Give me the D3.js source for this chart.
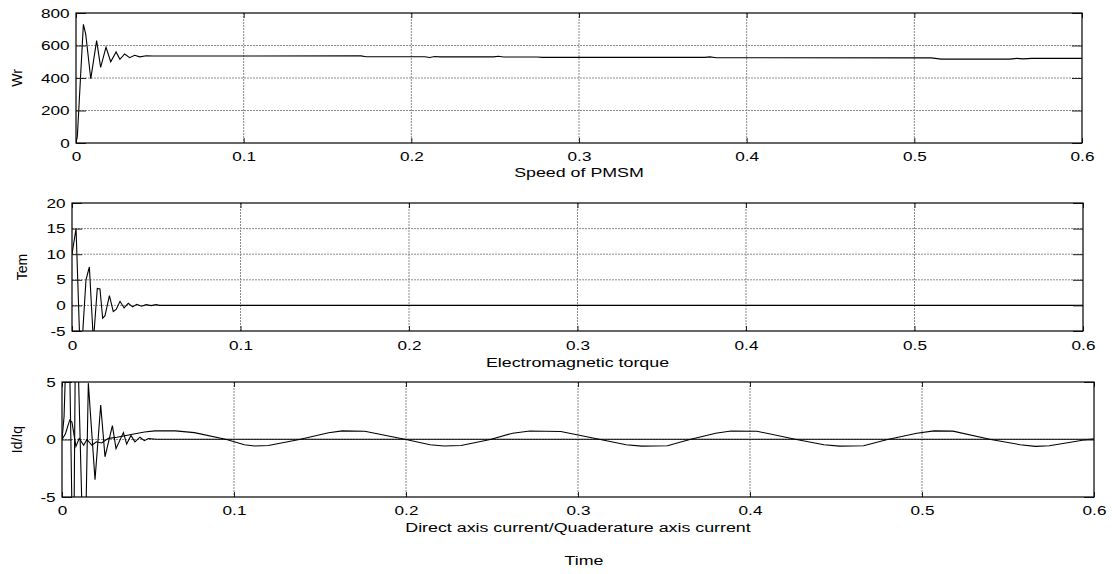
<!DOCTYPE html>
<html>
<head>
<meta charset="utf-8">
<script src="https://cdn.jsdelivr.net/npm/d3@7"></script>
<style>
  body { margin: 0; background: #fff; }
  text { font-family: "Liberation Sans", Arial, sans-serif; }
</style>
</head>
<body>
<div id="chart"></div>
<script>
// Time ticks shared by the three subplots
const timeTicks = [0, 0.1, 0.2, 0.3, 0.4, 0.5, 0.6];

// Speed of PMSM (Wr)
const speedTime  = [0, 0.0008, 0.0044, 0.0058, 0.0088, 0.0123, 0.0147, 0.0179, 0.0207, 0.0239, 0.0262, 0.029, 0.032, 0.035, 0.038, 0.042, 0.046,
                    0.17, 0.173, 0.208, 0.211, 0.214, 0.217, 0.249, 0.252, 0.255, 0.275, 0.278, 0.375, 0.378, 0.382,
                    0.51, 0.516, 0.557, 0.561, 0.565, 0.57, 0.6];
const speedValue = [0, 40, 730, 670, 395, 630, 465, 590, 500, 560, 515, 548, 525, 540, 530, 537, 535,
                    536, 531, 531, 526, 532, 530, 530, 534, 529, 529, 527, 527, 530, 525,
                    524, 516, 516, 521, 518, 521, 521];

// Electromagnetic torque (Tem)
const temTime  = [0, 0.0024, 0.0051, 0.0083, 0.0103, 0.0127, 0.015, 0.0166, 0.0182, 0.0196, 0.0222, 0.0245, 0.0262, 0.0285, 0.0309,
                  0.0334, 0.036, 0.0384, 0.0413, 0.044, 0.047, 0.0498, 0.052, 0.6];
const temValue = [10, 15, -12, 5, 7.5, -7, 3.3, 3.2, -2.5, -2, 1.9, -1.2, -0.8, 0.8, -0.5,
                  0.4, -0.3, 0.2, -0.15, 0.15, -0.05, 0.15, 0, 0];

// Direct / quadrature axis currents (Id/Iq)
const idTime  = [0, 0.002, 0.0045, 0.0058, 0.0081, 0.01, 0.0126, 0.0145, 0.0174, 0.02, 0.023, 0.027, 0.032, 0.041, 0.048, 0.054, 0.066, 0.077,
                 0.0957, 0.106, 0.112, 0.12, 0.138, 0.155, 0.163, 0.176, 0.2, 0.214, 0.222, 0.232, 0.249, 0.262, 0.272, 0.29,
                 0.313, 0.328, 0.337, 0.352, 0.365, 0.38, 0.389, 0.404, 0.427, 0.443, 0.452, 0.466, 0.48, 0.497, 0.507, 0.518,
                 0.54, 0.557, 0.566, 0.574, 0.596, 0.6];
const idValue = [0, 0.5, 1.7, 1.5, -0.6, 0.1, -0.5, 0, -0.5, -0.2, -0.3, 0.1, 0.2, 0.45, 0.65, 0.75, 0.75, 0.6,
                 0, -0.45, -0.56, -0.52, 0, 0.58, 0.75, 0.72, 0, -0.45, -0.56, -0.52, 0, 0.55, 0.74, 0.7,
                 0, -0.45, -0.58, -0.55, 0, 0.55, 0.74, 0.72, 0, -0.45, -0.58, -0.55, 0, 0.55, 0.75, 0.73,
                 0, -0.45, -0.6, -0.55, 0, 0.05];
const iqTime  = [0, 0.0012, 0.0037, 0.0066, 0.0081, 0.013, 0.0153, 0.0192, 0.0225, 0.025, 0.0293, 0.0314, 0.0357, 0.0376, 0.0401,
                 0.0424, 0.0453, 0.0479, 0.0502, 0.055, 0.6];
const iqValue = [0, 2, 14, -14, 14, -14, 4.9, -3.5, 3.0, -1.5, 1.2, -0.8, 0.6, -0.4, 0.35,
                 -0.2, 0.2, -0.1, 0.08, 0.02, 0.02];

// Subplot layout
const panels = [
  { left: 76, right: 1082, top: 13, bottom: 143, yDomain: [0, 800], yTicks: [0, 200, 400, 600, 800], gridY: [200, 400, 600],
    ylabel: 'Wr', ylabelX: 17, xlabel: 'Speed of PMSM', xlabelY: 177, xPad: 8.5,
    series: [[speedTime, speedValue]] },
  { left: 72, right: 1083, top: 203, bottom: 331, yDomain: [-5, 20], yTicks: [-5, 0, 5, 10, 15, 20], gridY: [0, 5, 10, 15],
    ylabel: 'Tem', ylabelX: 22, xlabel: 'Electromagnetic torque', xlabelY: 367, xPad: 9.5,
    series: [[temTime, temValue]] },
  { left: 62, right: 1094, top: 382, bottom: 497, yDomain: [-5, 5], yTicks: [-5, 0, 5], gridY: [0],
    ylabel: 'Id/Iq', ylabelX: 17, xlabel: 'Direct axis current/Quaderature axis current', xlabelY: 532, xPad: 8.5,
    series: [[idTime, idValue], [iqTime, iqValue]] }
];

const stretch = 1.32;   // the original text is wide

const svg = d3.select('#chart')
  .append('svg')
  .attr('width', 1112)
  .attr('height', 574);

const gridColor = '#8a8a8a';

panels.forEach((p, i) => {
  const x = d3.scaleLinear().domain([0, 0.6]).range([p.left, p.right]);
  const y = d3.scaleLinear().domain(p.yDomain).range([p.bottom, p.top]);
  const g = svg.append('g');

  svg.append('clipPath').attr('id', 'clip' + i)
    .append('rect')
    .attr('x', p.left).attr('y', p.top)
    .attr('width', p.right - p.left).attr('height', p.bottom - p.top);

  // grid lines
  g.append('g').selectAll('line')
    .data(timeTicks.slice(1, -1))
    .join('line')
    .attr('x1', d => x(d)).attr('x2', d => x(d))
    .attr('y1', p.top).attr('y2', p.bottom)
    .attr('stroke', gridColor).attr('stroke-width', 1)
    .attr('stroke-dasharray', '2,1');
  g.append('g').selectAll('line')
    .data(p.gridY)
    .join('line')
    .attr('x1', p.left).attr('x2', p.right)
    .attr('y1', d => y(d)).attr('y2', d => y(d))
    .attr('stroke', gridColor).attr('stroke-width', 1)
    .attr('stroke-dasharray', '2,1');

  // signals
  const line = d3.line().x(d => x(d[0])).y(d => y(d[1]));
  p.series.forEach(s => {
    g.append('path')
      .datum(d3.zip(s[0], s[1]))
      .attr('d', line)
      .attr('clip-path', `url(#clip${i})`)
      .attr('fill', 'none')
      .attr('stroke', '#000')
      .attr('stroke-width', 1.1);
  });

  // inward tick marks on the four sides
  const tickAxes = [
    [d3.axisBottom(x).tickValues(timeTicks).tickSizeInner(-5), `translate(0,${p.bottom})`],
    [d3.axisTop(x).tickValues(timeTicks).tickSizeInner(-5), `translate(0,${p.top})`],
    [d3.axisLeft(y).tickValues(p.yTicks).tickSizeInner(-10), `translate(${p.left},0)`],
    [d3.axisRight(y).tickValues(p.yTicks).tickSizeInner(-10), `translate(${p.right},0)`]
  ];
  tickAxes.forEach(([ax, tr]) => {
    g.append('g').attr('transform', tr)
      .call(ax.tickSizeOuter(0).tickFormat(''))
      .call(a => a.select('.domain').remove())
      .selectAll('line').attr('stroke', '#222');
  });

  // frame
  g.append('rect')
    .attr('x', p.left).attr('y', p.top)
    .attr('width', p.right - p.left).attr('height', p.bottom - p.top)
    .attr('fill', 'none').attr('stroke', '#000').attr('stroke-width', 1.2);

  // tick labels
  g.append('g')
    .attr('transform', `translate(0,${p.bottom})`)
    .call(d3.axisBottom(x).tickValues(timeTicks).tickSize(0).tickPadding(p.xPad).tickFormat(d => String(d)))
    .call(a => a.select('.domain').remove())
    .attr('font-family', '"Liberation Sans", Arial, sans-serif')
    .attr('font-size', 13)
    .selectAll('text').attr('fill', '#000').attr('transform', `scale(${stretch},1)`);

  g.append('g')
    .attr('transform', `translate(${p.left},0)`)
    .call(d3.axisLeft(y).tickValues(p.yTicks).tickSize(0).tickPadding(4.8).tickFormat(d => String(d)))
    .call(a => a.select('.domain').remove())
    .attr('font-family', '"Liberation Sans", Arial, sans-serif')
    .attr('font-size', 13)
    .selectAll('text').attr('fill', '#000').attr('transform', `scale(${stretch},1)`);

  // axis titles
  g.append('text')
    .attr('transform', `translate(${(p.left + p.right) / 2},${p.xlabelY}) scale(${stretch},1)`)
    .attr('text-anchor', 'middle')
    .style('font-size', '13.5px')
    .text(p.xlabel);

  g.append('text')
    .attr('transform', `translate(${p.ylabelX},${(p.top + p.bottom) / 2}) rotate(-90)`)
    .attr('text-anchor', 'middle')
    .attr('dy', '0.35em')
    .style('font-size', '14px')
    .text(p.ylabel);
});

// common x label
svg.append('text')
  .attr('transform', `translate(584,565) scale(${stretch},1)`)
  .attr('text-anchor', 'middle')
  .style('font-size', '13.5px')
  .text('Time');
</script>
</body>
</html>
